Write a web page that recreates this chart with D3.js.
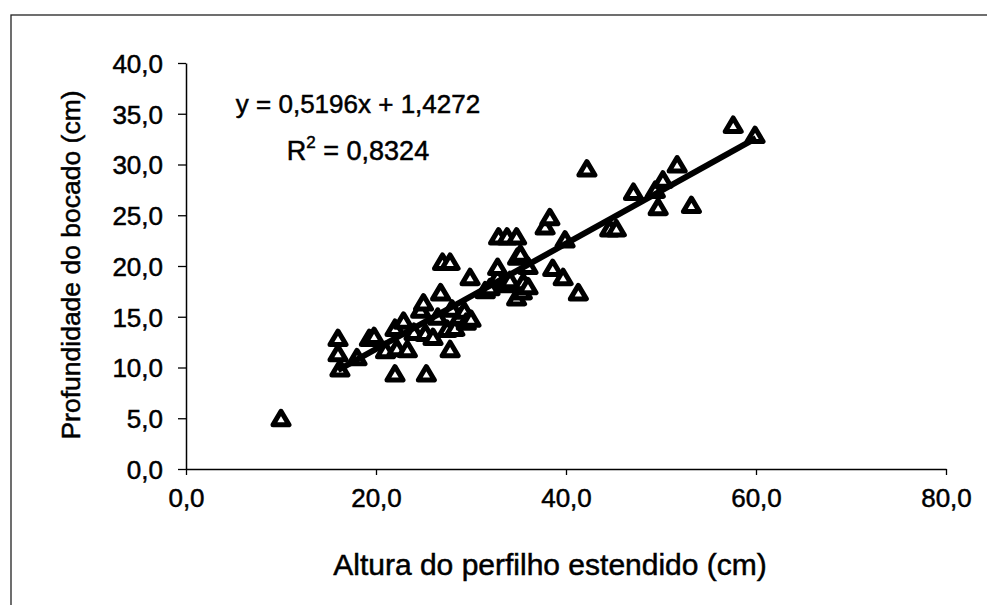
<!DOCTYPE html>
<html>
<head>
<meta charset="utf-8">
<script src="https://cdn.jsdelivr.net/npm/d3@7"></script>
<style>
  body { margin: 0; background: #fff; }
  svg { display: block; font-family: "Liberation Sans", Arial, sans-serif; }
  text { stroke: #000; stroke-width: 0.5px; }
</style>
</head>
<body>
<div id="frame"></div>
<script>
// altura do perfilho estendido (cm)
const alturaValues = [
  10.0, 16.0, 16.0, 16.2, 18.0, 19.3, 19.8, 21.0, 22.0, 22.0,
  22.2, 22.9, 23.3, 24.0, 24.7, 25.0, 25.2, 25.3, 26.0, 26.5,
  26.8, 27.0, 27.8, 27.5, 27.8, 28.0, 28.3, 28.8, 29.3, 29.5,
  29.9, 30.0, 31.5, 32.0, 32.8, 32.8, 32.9, 33.5, 33.8, 34.1,
  34.8, 34.8, 34.9, 35.2, 35.4, 35.5, 36.0, 36.0, 37.8, 38.3,
  38.6, 39.7, 39.9, 41.3, 42.2, 44.6, 45.3, 47.1, 49.4, 49.7,
  50.2, 51.7, 53.2, 57.6, 59.9
];
// profundidade do bocado (cm)
const profValues = [
  5.0, 12.9, 11.4, 9.9, 11.0, 12.9, 13.1, 11.7, 9.4, 13.9,
  11.9, 14.6, 11.8, 13.5, 15.7, 16.4, 13.4, 9.4, 13.0, 15.0,
  17.4, 20.4, 20.4, 13.8, 11.8, 15.8, 13.9, 15.0, 15.6, 14.5,
  18.9, 14.8, 17.6, 17.9, 18.9, 19.9, 22.9, 18.2, 22.9, 18.6,
  22.9, 16.9, 20.9, 21.2, 17.5, 18.4, 20.0, 18.0, 23.9, 24.8,
  19.8, 18.9, 22.6, 17.4, 29.6, 23.7, 23.7, 27.3, 27.5, 25.8,
  28.5, 30.0, 26.0, 33.9, 32.9
];
const xTicks = [0, 20, 40, 60, 80];
const yTicks = [0, 5, 10, 15, 20, 25, 30, 35, 40];
const slope = 0.5196;
const intercept = 1.4272;
const trendRange = [16, 60];
const equationText = "y = 0,5196x + 1,4272";
const r2Text = "0,8324";

const width = 987, height = 605;
const fmt = (v) => d3.format(".1f")(v).replace(".", ",");

const x = d3.scaleLinear().domain([0, 80]).range([186, 946]);
const y = d3.scaleLinear().domain([0, 40]).range([469, 63]);

const svg = d3
  .select("#frame")
  .append("svg")
  .attr("width", width)
  .attr("height", height);

// outer chart border (only top and left visible)
svg
  .append("rect")
  .attr("x", 11)
  .attr("y", 15)
  .attr("width", 990)
  .attr("height", 600)
  .attr("fill", "none")
  .attr("stroke", "#222")
  .attr("stroke-width", 1.3);

// axes
const xAxis = svg
  .append("g")
  .attr("transform", `translate(0,${y(0)})`)
  .call(d3.axisBottom(x).tickValues(xTicks).tickFormat(fmt).tickSize(6).tickSizeOuter(0).tickPadding(14));
const yAxis = svg
  .append("g")
  .attr("transform", `translate(${x(0)},0)`)
  .call(d3.axisLeft(y).tickValues(yTicks).tickFormat(fmt).tickSize(8).tickSizeOuter(0).tickPadding(15));

[xAxis, yAxis].forEach((g) => {
  g.select(".domain").attr("stroke", "#000").attr("stroke-width", 1.5);
  g.selectAll(".tick line").attr("stroke", "#000").attr("stroke-width", 1.3);
  g.selectAll(".tick text")
    .attr("fill", "#000")
    .style("font-size", "26px")
    .style("font-family", "'Liberation Sans', Arial, sans-serif");
});
yAxis.selectAll(".tick text").attr("dy", "0.36em");

// points
const tri = "M0,-7L8,6.5L-8,6.5Z";
svg
  .append("g")
  .selectAll("path")
  .data(alturaValues.map((d, i) => [d, profValues[i]]))
  .join("path")
  .attr("d", tri)
  .attr("transform", (d) => `translate(${x(d[0])},${y(d[1])})`)
  .attr("fill", "#fff")
  .attr("stroke", "#000")
  .attr("stroke-width", 5)
  .attr("stroke-linejoin", "round");

// trendline
svg
  .append("line")
  .attr("x1", x(trendRange[0]))
  .attr("y1", y(slope * trendRange[0] + intercept))
  .attr("x2", x(trendRange[1]))
  .attr("y2", y(slope * trendRange[1] + intercept))
  .attr("stroke", "#000")
  .attr("stroke-width", 6);

// equation
svg
  .append("text")
  .attr("x", 358)
  .attr("y", 113)
  .attr("text-anchor", "middle")
  .style("font-size", "26px")
  .text(equationText);
const r2 = svg
  .append("text")
  .attr("x", 358)
  .attr("y", 160)
  .attr("text-anchor", "middle")
  .style("font-size", "27px");
r2.append("tspan").text("R");
r2.append("tspan").attr("dy", -12).style("font-size", "17px").text("2");
r2.append("tspan").attr("dy", 12).text(" = " + r2Text);

// axis titles
svg
  .append("text")
  .attr("x", 550)
  .attr("y", 575)
  .attr("text-anchor", "middle")
  .style("font-size", "30px")
  .text("Altura do perfilho estendido (cm)");
svg
  .append("text")
  .attr("transform", "translate(80,265) rotate(-90)")
  .attr("text-anchor", "middle")
  .style("font-size", "26.5px")
  .text("Profundidade do bocado (cm)");
</script>
</body>
</html>
